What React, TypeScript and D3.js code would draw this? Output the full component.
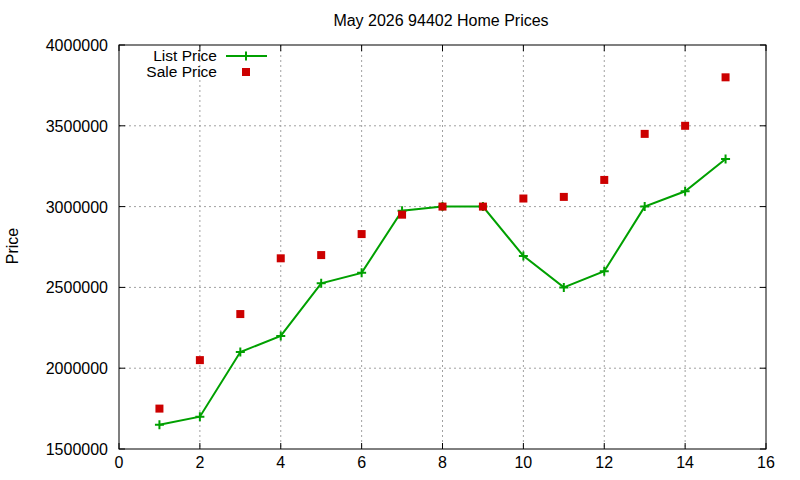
import React from "react";
import * as d3 from "d3";

const months = [1, 2, 3, 4, 5, 6, 7, 8, 9, 10, 11, 12, 13, 14, 15];
const listPrice = [1650000, 1700000, 2100000, 2200000, 2525000, 2590000, 2975000, 3000000, 3000000, 2695000, 2500000, 2600000, 3000000, 3095000, 3295000];
const salePrice = [1750000, 2050000, 2335000, 2680000, 2700000, 2830000, 2950000, 3000000, 3000000, 3050000, 3060000, 3165000, 3450000, 3500000, 3800000];
const xTicks = [0, 2, 4, 6, 8, 10, 12, 14, 16];
const yTicks = [1500000, 2000000, 2500000, 3000000, 3500000, 4000000];
const title = "May 2026 94402 Home Prices";

const W = 800, H = 480;
const L = 119, R = 766, T = 45, B = 449;
const GREEN = "#00a000";
const RED = "#cc0000";
const FONT = "'Liberation Sans', Arial, sans-serif";

export default function App() {
  const x = d3.scaleLinear().domain([0, 16]).range([L, R]);
  const y = d3.scaleLinear().domain([1500000, 4000000]).range([B, T]);
  const line = d3.line<number>().x((_, i) => x(months[i])).y((d) => y(d));
  const plus = (cx: number, cy: number, k: string) => (
    <path key={k} d={`M${cx - 4.5},${cy}H${cx + 4.5}M${cx},${cy - 4.5}V${cy + 4.5}`} stroke={GREEN} strokeWidth={2} fill="none" />
  );
  return (
    <svg width={W} height={H} style={{ position: "absolute", left: 0, top: 0 }} fontFamily={FONT}>
      <rect width={W} height={H} fill="#fff" />
      {xTicks.slice(1, -1).map((t) => (
        <line key={"gx" + t} x1={x(t)} x2={x(t)} y1={T} y2={B} stroke="#a0a0a0" strokeWidth={1} strokeDasharray="2,3" />
      ))}
      {yTicks.slice(1, -1).map((t) => (
        <line key={"gy" + t} x1={L} x2={R} y1={y(t)} y2={y(t)} stroke="#a0a0a0" strokeWidth={1} strokeDasharray="2,3" />
      ))}
      {xTicks.map((t) => (
        <g key={"tx" + t}>
          <line x1={x(t)} x2={x(t)} y1={B} y2={B - 6} stroke="#000" />
          <line x1={x(t)} x2={x(t)} y1={T} y2={T + 6} stroke="#000" />
          <text x={x(t)} y={468} fontSize={16} textAnchor="middle" fill="#000">{t}</text>
        </g>
      ))}
      {yTicks.map((t) => (
        <g key={"ty" + t}>
          <line x1={L} x2={L + 6} y1={y(t)} y2={y(t)} stroke="#000" />
          <line x1={R} x2={R - 6} y1={y(t)} y2={y(t)} stroke="#000" />
          <text x={108} y={y(t) + 6} fontSize={16} textAnchor="end" fill="#000">{t}</text>
        </g>
      ))}
      <rect x={L} y={T} width={R - L} height={B - T} fill="none" stroke="#000" strokeWidth={1} />
      <text x={441} y={26} fontSize={16} textAnchor="middle" fill="#000">{title}</text>
      <text transform="translate(18,246) rotate(-90)" fontSize={16} textAnchor="middle" fill="#000">Price</text>
      <path d={line(listPrice) || ""} fill="none" stroke={GREEN} strokeWidth={2} />
      {listPrice.map((v, i) => plus(x(months[i]), y(v), "p" + i))}
      {salePrice.map((v, i) => (
        <rect key={"s" + i} x={x(months[i]) - 4} y={y(v) - 4} width={8} height={8} fill={RED} />
      ))}
      <text x={217} y={61} fontSize={15.5} textAnchor="end" fill="#000">List Price</text>
      <line x1={226} x2={267} y1={56} y2={56} stroke={GREEN} strokeWidth={2} />
      {plus(246, 56, "lp")}
      <text x={217} y={77} fontSize={15.5} textAnchor="end" fill="#000">Sale Price</text>
      <rect x={242} y={68} width={8} height={8} fill={RED} />
    </svg>
  );
}
